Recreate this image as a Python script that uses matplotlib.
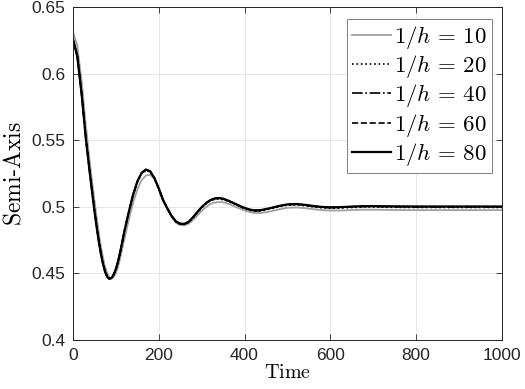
import numpy as np
import matplotlib
matplotlib.use('Agg')
import matplotlib.pyplot as plt

plt.rcParams['font.family'] = ['Liberation Sans', 'DejaVu Sans']
plt.rcParams['mathtext.fontset'] = 'cm'

# 时间点 (读取自原图)
time = [0, 10, 20, 30, 40, 50, 55, 60, 65, 70,
        75, 80, 85, 90, 95, 100, 105, 110, 120, 130,
        140, 150, 160, 170, 180, 190, 200, 210, 220, 230,
        240, 250, 260, 270, 280, 290, 300, 310, 320, 330,
        340, 350, 360, 370, 380, 390, 400, 410, 420, 430,
        440, 460, 480, 500, 520, 540, 560, 580, 600, 620,
        640, 660, 680, 700, 750, 800, 850, 900, 950, 1000]

# 1/h = 10 (灰色)
semi_h10 = [0.6315, 0.621, 0.595, 0.561, 0.531, 0.505, 0.4925, 0.4808, 0.4705, 0.4618,
            0.4549, 0.4500, 0.4470, 0.4461, 0.4472, 0.4502, 0.4550, 0.4613, 0.476, 0.490,
            0.503, 0.513, 0.520, 0.5235, 0.524, 0.521, 0.5145, 0.506, 0.4985, 0.4925,
            0.488, 0.4863, 0.4860, 0.4873, 0.490, 0.4935, 0.497, 0.4998, 0.502, 0.5032,
            0.5036, 0.5034, 0.5025, 0.5012, 0.4998, 0.4985, 0.4972, 0.4962, 0.4955, 0.4952,
            0.4954, 0.4965, 0.4980, 0.4992, 0.4995, 0.4990, 0.4982, 0.4975, 0.4972, 0.4972,
            0.4974, 0.4977, 0.4978, 0.4978, 0.4976, 0.4975, 0.4975, 0.4975, 0.4975, 0.4975]

# 1/h = 20
semi_h20 = [0.6265, 0.6140, 0.5865, 0.5530, 0.5250, 0.4990, 0.4870, 0.4758, 0.4662, 0.4582,
            0.4520, 0.4480, 0.4463, 0.4468, 0.4490, 0.4527, 0.4580, 0.4648, 0.4812, 0.4952,
            0.5082, 0.5183, 0.5248, 0.5273, 0.5262, 0.5212, 0.5134, 0.5047, 0.4985, 0.4928,
            0.4887, 0.4869, 0.4869, 0.4884, 0.4918, 0.4957, 0.4992, 0.5022, 0.5044, 0.5056,
            0.5059, 0.5054, 0.5043, 0.5029, 0.5014, 0.4999, 0.4986, 0.4975, 0.4968, 0.4967,
            0.4970, 0.4984, 0.5000, 0.5012, 0.5014, 0.5008, 0.4999, 0.4992, 0.4989, 0.4990,
            0.4993, 0.4996, 0.4998, 0.4998, 0.4996, 0.4995, 0.4995, 0.4995, 0.4995, 0.4995]

# 1/h = 40
semi_h40 = [0.6260, 0.6133, 0.5853, 0.5514, 0.5234, 0.4974, 0.4856, 0.4746, 0.4652, 0.4574,
            0.4514, 0.4475, 0.4461, 0.4468, 0.4492, 0.4531, 0.4588, 0.4658, 0.4818, 0.4959,
            0.5088, 0.5188, 0.5253, 0.5278, 0.5265, 0.5214, 0.5136, 0.5049, 0.4987, 0.4930,
            0.4889, 0.4872, 0.4871, 0.4887, 0.4921, 0.4960, 0.4996, 0.5026, 0.5049, 0.5061,
            0.5064, 0.5059, 0.5047, 0.5033, 0.5018, 0.5003, 0.4990, 0.4979, 0.4972, 0.4971,
            0.4974, 0.4988, 0.5004, 0.5016, 0.5019, 0.5013, 0.5004, 0.4997, 0.4994, 0.4995,
            0.4998, 0.5001, 0.5003, 0.5003, 0.5001, 0.5000, 0.5000, 0.5000, 0.5000, 0.5000]

# 1/h = 60
semi_h60 = [0.6259, 0.6131, 0.5851, 0.5512, 0.5232, 0.4972, 0.4854, 0.4744, 0.4650, 0.4572,
            0.4512, 0.4474, 0.4460, 0.4467, 0.4492, 0.4532, 0.4589, 0.4659, 0.4819, 0.4960,
            0.5089, 0.5189, 0.5254, 0.5279, 0.5266, 0.5215, 0.5137, 0.5050, 0.4988, 0.4931,
            0.4890, 0.4873, 0.4872, 0.4888, 0.4922, 0.4961, 0.4997, 0.5027, 0.5050, 0.5062,
            0.5065, 0.5060, 0.5048, 0.5034, 0.5019, 0.5004, 0.4991, 0.4980, 0.4973, 0.4972,
            0.4975, 0.4989, 0.5005, 0.5017, 0.5020, 0.5014, 0.5005, 0.4998, 0.4995, 0.4996,
            0.4999, 0.5002, 0.5004, 0.5004, 0.5002, 0.5001, 0.5001, 0.5001, 0.5001, 0.5001]

# 1/h = 80 (黑色实线)
semi_h80 = [0.6258, 0.613, 0.585, 0.551, 0.523, 0.497, 0.4852, 0.4742, 0.4648, 0.4570,
            0.4510, 0.4472, 0.4458, 0.4466, 0.4492, 0.4533, 0.4590, 0.4660, 0.482, 0.496,
            0.509, 0.519, 0.5255, 0.528, 0.5267, 0.5215, 0.5137, 0.505, 0.4988, 0.4931,
            0.489, 0.4873, 0.4872, 0.4888, 0.4922, 0.4961, 0.4997, 0.5027, 0.5050, 0.5062,
            0.5066, 0.5061, 0.5049, 0.5035, 0.502, 0.5005, 0.4992, 0.4981, 0.4974, 0.4973,
            0.4976, 0.4990, 0.5006, 0.5018, 0.5021, 0.5015, 0.5006, 0.4999, 0.4996, 0.4997,
            0.5000, 0.5003, 0.5005, 0.5005, 0.5003, 0.5002, 0.5002, 0.5002, 0.5002, 0.5002]

x_ticks = [0, 200, 400, 600, 800, 1000]
y_ticks = [0.4, 0.45, 0.5, 0.55, 0.6, 0.65]
y_tick_labels = ['0.4', '0.45', '0.5', '0.55', '0.6', '0.65']

fig = plt.figure(figsize=(5.25, 3.89), dpi=100)
ax = fig.add_axes([0.139, 0.126, 0.817, 0.856])

ax.plot(time, semi_h10, '-', color='#a0a0a0', lw=1.3, label=r'$1/h \,=\, 10$')
ax.plot(time, semi_h20, ':', color='black', lw=1.2, label=r'$1/h \,=\, 20$')
ax.plot(time, semi_h40, '-.', color='black', lw=1.2, label=r'$1/h \,=\, 40$')
ax.plot(time, semi_h60, '--', color='black', lw=1.2, label=r'$1/h \,=\, 60$')
ax.plot(time, semi_h80, '-', color='black', lw=1.6, label=r'$1/h \,=\, 80$')

ax.set_xlim(0, 1000)
ax.set_ylim(0.4, 0.65)
ax.set_xticks(x_ticks)
ax.set_yticks(y_ticks)
ax.set_yticklabels(y_tick_labels)
ax.tick_params(direction='in', top=True, right=True, length=4, width=0.6,
               colors='#262626', labelsize=12.5, pad=5.5)
for sp in ax.spines.values():
    sp.set_color('#262626')
    sp.set_linewidth(0.7)
ax.grid(True, color='#e6e6e6', lw=0.7)
ax.set_axisbelow(True)

ax.set_xlabel(r'$\mathrm{Time}$', fontsize=14.5, labelpad=0)
ax.set_ylabel(r'$\mathrm{Semi}$-$\mathrm{Axis}$', fontsize=17, labelpad=4)

leg = ax.legend(loc='upper right', bbox_to_anchor=(0.976, 0.963), borderaxespad=0,
                fontsize=16.5, fancybox=False, framealpha=1, edgecolor='#808080',
                handlelength=1.7, handletextpad=0.15, labelspacing=0.1,
                borderpad=0.2)
leg.get_frame().set_linewidth(0.7)

fig.savefig('out.png', dpi=100)
